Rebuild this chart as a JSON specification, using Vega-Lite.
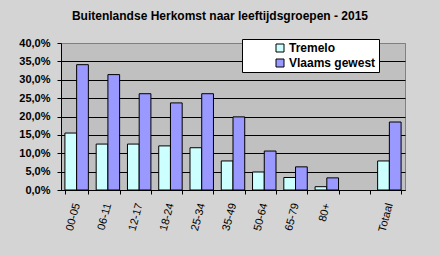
{
  "$schema": "https://vega.github.io/schema/vega-lite/v6.json",
  "width": 344,
  "height": 147,
  "autosize": {"type": "none"},
  "padding": {"left": 61, "top": 43, "right": 35, "bottom": 66},
  "background": "#D4D4D4",
  "title": {
    "text": "Buitenlandse Herkomst naar leeftijdsgroepen - 2015",
    "font": "Liberation Sans",
    "fontSize": 12,
    "fontWeight": "bold",
    "color": "black",
    "anchor": "middle",
    "dx": -13,
    "offset": 14
  },
  "data": {
    "values": [
      {"groep": "00-05", "reeks": "Tremelo", "waarde": 0.155},
      {"groep": "00-05", "reeks": "Vlaams gewest", "waarde": 0.341},
      {"groep": "06-11", "reeks": "Tremelo", "waarde": 0.125},
      {"groep": "06-11", "reeks": "Vlaams gewest", "waarde": 0.314},
      {"groep": "12-17", "reeks": "Tremelo", "waarde": 0.125},
      {"groep": "12-17", "reeks": "Vlaams gewest", "waarde": 0.262},
      {"groep": "18-24", "reeks": "Tremelo", "waarde": 0.12},
      {"groep": "18-24", "reeks": "Vlaams gewest", "waarde": 0.237},
      {"groep": "25-34", "reeks": "Tremelo", "waarde": 0.115},
      {"groep": "25-34", "reeks": "Vlaams gewest", "waarde": 0.262},
      {"groep": "35-49", "reeks": "Tremelo", "waarde": 0.079},
      {"groep": "35-49", "reeks": "Vlaams gewest", "waarde": 0.199},
      {"groep": "50-64", "reeks": "Tremelo", "waarde": 0.049},
      {"groep": "50-64", "reeks": "Vlaams gewest", "waarde": 0.106},
      {"groep": "65-79", "reeks": "Tremelo", "waarde": 0.034},
      {"groep": "65-79", "reeks": "Vlaams gewest", "waarde": 0.063},
      {"groep": "80+", "reeks": "Tremelo", "waarde": 0.009},
      {"groep": "80+", "reeks": "Vlaams gewest", "waarde": 0.033},
      {"groep": "Totaal", "reeks": "Tremelo", "waarde": 0.079},
      {"groep": "Totaal", "reeks": "Vlaams gewest", "waarde": 0.185}
    ]
  },
  "mark": {"type": "bar", "stroke": "black", "strokeWidth": 1},
  "encoding": {
    "x": {
      "field": "groep",
      "type": "nominal",
      "scale": {
        "domain": ["00-05", "06-11", "12-17", "18-24", "25-34", "35-49", "50-64", "65-79", "80+", " ", "Totaal"],
        "paddingInner": 0.25,
        "paddingOuter": 0.125
      },
      "axis": {
        "title": null,
        "labelAngle": -75,
        "labelAlign": "right",
        "labelBaseline": "middle",
        "labelPadding": 9,
        "labelFont": "Liberation Sans",
        "labelFontSize": 11,
        "labelColor": "black",
        "tickBand": "extent",
        "tickSize": 4,
        "tickColor": "black",
        "domainColor": "black",
        "grid": false
      }
    },
    "xOffset": {
      "field": "reeks",
      "type": "nominal",
      "scale": {"domain": ["Tremelo", "Vlaams gewest"], "paddingInner": 0, "paddingOuter": 0}
    },
    "y": {
      "field": "waarde",
      "type": "quantitative",
      "scale": {"domain": [0, 0.4], "nice": false},
      "axis": {
        "title": null,
        "values": [0, 0.05, 0.1, 0.15, 0.2, 0.25, 0.3, 0.35, 0.4],
        "labelExpr": "replace(format(datum.value, '.1%'), '.', ',')",
        "labelFont": "Liberation Sans",
        "labelFontSize": 11,
        "labelFontWeight": "bold",
        "labelColor": "black",
        "labelPadding": 7,
        "tickSize": 4,
        "tickColor": "black",
        "domainColor": "black",
        "grid": true,
        "gridColor": {"condition": {"test": "datum.value >= 0.4", "value": "#808080"}, "value": "black"},
        "gridOpacity": 1
      }
    },
    "color": {
      "field": "reeks",
      "type": "nominal",
      "scale": {"domain": ["Tremelo", "Vlaams gewest"], "range": ["#CCFFFF", "#9999FF"]},
      "legend": {
        "title": null,
        "orient": "none",
        "legendX": 181,
        "legendY": -4,
        "padding": 3,
        "fillColor": "white",
        "strokeColor": "black",
        "symbolType": "square",
        "symbolSize": 64,
        "symbolStrokeColor": "black",
        "symbolStrokeWidth": 1,
        "symbolOffset": 29,
        "labelOffset": 3,
        "rowPadding": 3,
        "labelFont": "Liberation Sans",
        "labelFontSize": 12,
        "labelFontWeight": "bold",
        "labelColor": "black",
        "labelExpr": "datum.label + '        '"
      }
    }
  },
  "config": {
    "view": {"fill": "#C0C0C0", "stroke": "#808080"},
    "axis": {"gridWidth": 1, "domainWidth": 1, "tickWidth": 1}
  }
}
